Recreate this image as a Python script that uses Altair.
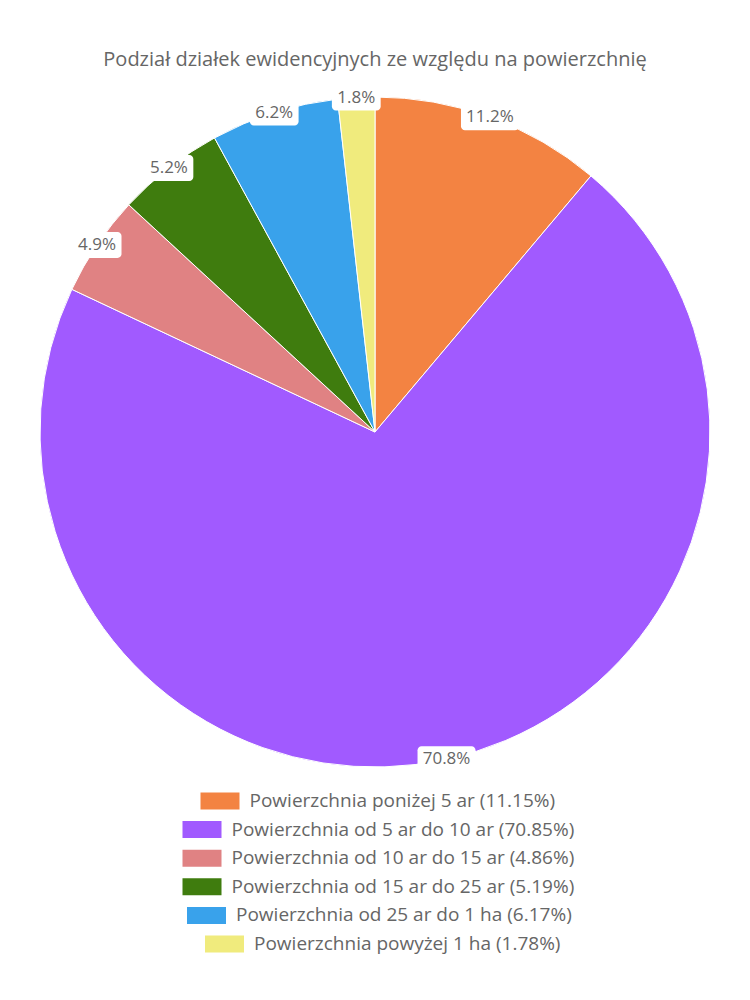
import altair as alt
import pandas as pd

categories = [
    "Powierzchnia poniżej 5 ar",
    "Powierzchnia od 5 ar do 10 ar",
    "Powierzchnia od 10 ar do 15 ar",
    "Powierzchnia od 15 ar do 25 ar",
    "Powierzchnia od 25 ar do 1 ha",
    "Powierzchnia powyżej 1 ha",
]
values = [11.15, 70.85, 4.86, 5.19, 6.17, 1.78]
colors = ["#F38342", "#A15AFF", "#E08283", "#3F7C0E", "#39A2EB", "#F0EB7D"]
title_text = "Podział działek ewidencyjnych ze względu na powierzchnię"

df = pd.DataFrame({"idx": list(range(len(categories))), "category": categories, "value": values})

W, H = 734, 984
CX, CY, R = 367, 424, 335
FONT = "Open Sans"
GREY = "#666666"
CHARW = 9.0

base = alt.Chart(df)

pie = base.mark_arc(outerRadius=R, stroke="white", strokeWidth=1).encode(
    theta=alt.Theta("value:Q", stack=True),
    color=alt.Color("category:N", scale=alt.Scale(domain=categories, range=colors), legend=None),
    order=alt.Order("idx:Q"),
    x=alt.value(CX),
    y=alt.value(CY),
)

lab = base.transform_window(
    cum="sum(value)", sort=[alt.SortField("idx")], frame=[None, 0]
).transform_joinaggregate(total="sum(value)").transform_calculate(
    mid="(datum.cum - datum.value/2)/datum.total*2*PI",
    lbl="format(datum.value, '.1f') + '%'",
    bw="length(datum.lbl)*9.2 + 12",
    cx=f"{CX} + {R}*sin(datum.mid)",
    cy=f"{CY} - {R}*cos(datum.mid)",
    bx1="datum.cx - datum.bw/2",
    bx2="datum.cx + datum.bw/2",
    by1="datum.cy - 13",
    by2="datum.cy + 13",
)

boxes = lab.mark_rect(fill="white", cornerRadius=4).encode(
    x=alt.X("bx1:Q", scale=None, axis=None),
    x2="bx2:Q",
    y=alt.Y("by1:Q", scale=None, axis=None),
    y2="by2:Q",
)
labels = lab.mark_text(font=FONT, fontSize=17, color=GREY, baseline="middle", align="center").encode(
    x=alt.X("cx:Q", scale=None, axis=None),
    y=alt.Y("cy:Q", scale=None, axis=None),
    text="lbl:N",
)

leg = base.transform_calculate(
    ltxt="datum.category + ' (' + datum.value + '%)'",
    tw=f"length(datum.ltxt)*{CHARW}",
    ly="793 + datum.idx*28.6",
    rx1="370 - (49 + datum.tw)/2",
    rx2="datum.rx1 + 39",
    tx="datum.rx2 + 10",
    ry1="datum.ly - 8.5",
    ry2="datum.ly + 8.5",
)
leg_rect = leg.mark_rect().encode(
    x=alt.X("rx1:Q", scale=None, axis=None),
    x2="rx2:Q",
    y=alt.Y("ry1:Q", scale=None, axis=None),
    y2="ry2:Q",
    color=alt.Color("category:N", scale=alt.Scale(domain=categories, range=colors), legend=None),
)
leg_text = leg.mark_text(font=FONT, fontSize=19, color=GREY, align="left", baseline="middle").encode(
    x=alt.X("tx:Q", scale=None, axis=None),
    y=alt.Y("ly:Q", scale=None, axis=None),
    text="ltxt:N",
)

title = alt.Chart(pd.DataFrame({"t": [title_text]})).mark_text(
    font=FONT, fontSize=20, color=GREY, align="center", baseline="middle"
).encode(x=alt.value(367), y=alt.value(52), text="t:N")

chart = alt.layer(pie, boxes, labels, leg_rect, leg_text, title).properties(
    width=W, height=H, padding=0, autosize=alt.AutoSizeParams(type="none")
).configure_view(stroke=None)

chart.save("out.html", embed_options={"renderer": "svg", "actions": False})
